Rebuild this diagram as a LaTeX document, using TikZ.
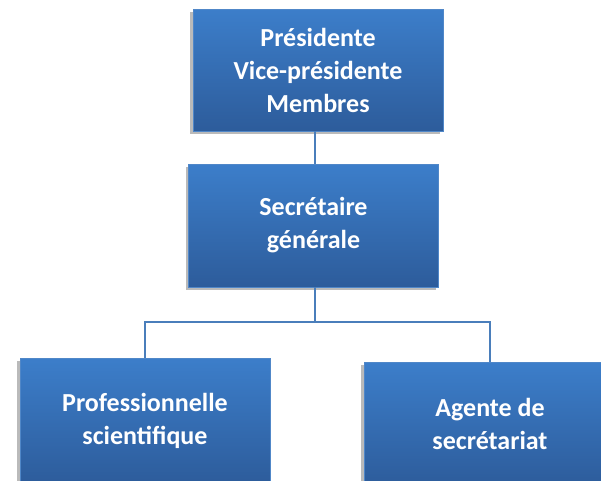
\documentclass[tikz,border=0pt]{standalone}
\usepackage{fontspec}
\setmainfont{Carlito}
\usetikzlibrary{shadows}

\definecolor{boxtop}{RGB}{60,126,202}
\definecolor{boxbottom}{RGB}{45,92,155}
\definecolor{boxline}{RGB}{80,135,200}
\definecolor{linkblue}{RGB}{74,126,187}

\tikzset{
  orgbox/.style={draw=boxline, line width=0.6pt, top color=boxtop, bottom color=boxbottom,
    text=white, font=\fontsize{26}{33}\selectfont\bfseries, align=center,
    minimum width=250pt, minimum height=122pt, inner sep=0pt,
    drop shadow={shadow xshift=-3pt, shadow yshift=-3pt, fill=black!60, opacity=0.45}},
  link/.style={draw=linkblue, line width=1.5pt}
}

\begin{document}
\begin{tikzpicture}[x=1pt, y=-1pt]
  \useasboundingbox (0,0) rectangle (601,480);
  \clip (0,0) rectangle (601,480);
  \fill[white] (0,0) rectangle (601,480);

  % Board
  \node[orgbox] (board) at (318,70) {Présidente\\Vice-présidente\\Membres};

  % Secretary general
  \node[orgbox, minimum height=123pt] (secgen) at (313.5,225.5) {Secrétaire\\générale};

  % Staff
  \node[orgbox, minimum height=126pt] (prof) at (145,421) {Professionnelle\\scientifique};
  \node[orgbox, minimum width=252pt, minimum height=124pt] (agent) at (490,424) {Agente de\\secrétariat};

  % Links
  \coordinate (split) at (315,322);
  \draw[link] (board.south -| split) -- (secgen.north -| split);
  \draw[link] (secgen.south -| split) -- (split);
  \draw[link] (split) -| (prof.north);
  \draw[link] (split) -| (agent.north);
\end{tikzpicture}
\end{document}
